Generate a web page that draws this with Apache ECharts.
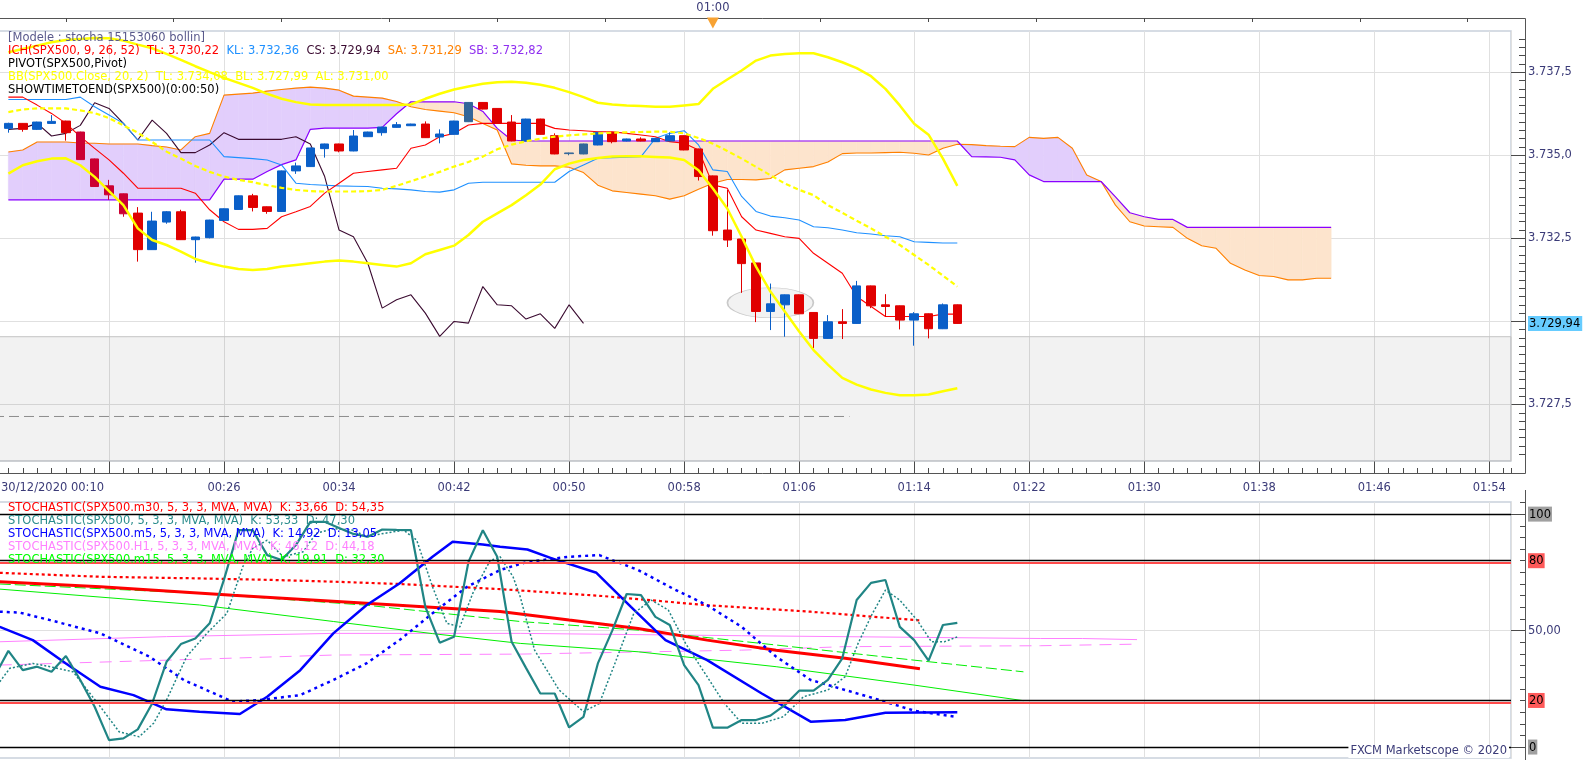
<!DOCTYPE html>
<html><head><meta charset="utf-8">
<script src="https://cdn.jsdelivr.net/npm/echarts@6/dist/echarts.min.js"></script>
<style>html,body{margin:0;padding:0;background:#fff;}#c{width:1583px;height:760px;}</style>
</head><body><div id="c"></div>
<script>
// ---------------- DATA (minutes after 00:00 on 30/12/2020) ----------------
const candleStart = 11; // first candle 00:11, one per minute
const candleOpen  = [3735.81,3735.96,3735.78,3735.96,3736.03,3735.70,3734.89,3734.08,3733.84,3733.26,
                     3732.16,3732.99,3733.30,3732.46,3732.52,3733.04,3733.37,3733.78,3733.45,3733.31,
                     3734.53,3734.66,3735.20,3735.34,3735.13,3735.56,3735.68,3735.84,3735.89,3735.94,
                     3735.55,3735.63,3736.01,3736.59,3736.41,3736.00,3735.43,3736.09,3735.59,3735.05,
                     3735.04,3735.31,3735.69,3735.43,3735.49,3735.41,3735.43,3735.59,3735.19,3734.38,
                     3732.75,3732.48,3731.76,3730.30,3730.50,3730.80,3730.27,3729.49,3729.99,3729.94,
                     3731.07,3730.50,3730.47,3730.04,3730.23,3729.78,3730.50];
const candleClose = [3735.96,3735.78,3736.00,3736.02,3735.68,3734.87,3734.06,3733.81,3733.24,3732.16,
                     3733.02,3733.30,3732.46,3732.54,3733.05,3733.39,3733.78,3733.43,3733.31,3734.53,
                     3734.68,3735.22,3735.34,3735.13,3735.58,3735.70,3735.85,3735.92,3735.94,3735.53,
                     3735.64,3736.03,3736.59,3736.39,3735.96,3735.43,3736.09,3735.63,3735.04,3735.07,
                     3735.34,3735.69,3735.41,3735.49,3735.43,3735.51,3735.59,3735.16,3734.36,3732.73,
                     3732.45,3731.74,3730.30,3730.53,3730.80,3730.23,3729.49,3729.99,3729.94,3731.07,
                     3730.47,3730.45,3730.04,3730.23,3729.78,3730.50,3729.94];
const candleLow   = [3735.68,3735.71,3735.76,3735.95,3735.44,3734.86,3734.05,3733.66,3733.15,3731.80,
                     3732.15,3732.94,3732.45,3731.77,3732.50,3733.03,3733.36,3733.31,3733.24,3733.30,
                     3734.44,3734.65,3734.93,3735.09,3735.12,3735.55,3735.59,3735.83,3735.88,3735.52,
                     3735.36,3735.62,3736.00,3736.38,3735.95,3735.42,3735.42,3735.62,3735.03,3735.00,
                     3735.03,3735.30,3735.36,3735.42,3735.42,3735.40,3735.42,3735.15,3734.24,3732.58,
                     3732.24,3730.86,3729.98,3729.74,3729.54,3730.22,3729.20,3729.48,3729.47,3729.93,
                     3730.40,3730.14,3729.76,3729.27,3729.49,3729.77,3729.93];
const candleHigh  = [3735.98,3735.97,3736.01,3736.21,3736.04,3735.71,3734.90,3734.26,3733.85,3733.44,
                     3733.30,3733.32,3733.36,3732.55,3733.06,3733.40,3733.79,3733.84,3733.46,3734.54,
                     3734.78,3735.23,3735.35,3735.35,3735.76,3735.71,3735.86,3736.00,3735.95,3736.02,
                     3735.78,3736.04,3736.60,3736.60,3736.42,3736.21,3736.10,3736.10,3735.66,3735.08,
                     3735.35,3735.70,3735.70,3735.50,3735.54,3735.52,3735.69,3735.60,3735.20,3734.39,
                     3733.96,3732.49,3731.77,3731.14,3730.81,3730.81,3730.28,3730.19,3730.37,3731.22,
                     3731.08,3730.82,3730.48,3730.28,3730.24,3730.54,3730.51];

const tenkan = [3736.75,3736.75,3736.51,3736.26,3735.96,3735.56,3735.21,3734.86,3734.46,3734.01,
                3734.01,3734.01,3734.01,3733.86,3733.36,3733.00,3732.77,3732.77,3732.80,3733.15,
                3733.30,3733.46,3733.86,3734.16,3734.46,3734.51,3734.56,3734.61,3735.21,3735.31,
                3735.56,3735.66,3735.91,3735.96,3735.96,3735.96,3735.96,3735.96,3735.81,3735.76,
                3735.74,3735.71,3735.71,3735.66,3735.61,3735.56,3735.41,3735.36,3735.16,3734.11,
                3734.01,3733.15,3732.75,3732.65,3732.55,3732.50,3732.05,3731.75,3731.45,3730.75,
                3730.45,3730.15,3730.15,3730.15,3730.15,3730.22,3730.22];
const kijun  = [3736.68,3736.68,3736.68,3736.68,3736.68,3736.75,3736.46,3736.21,3735.96,3735.46,
                3735.46,3735.46,3735.46,3735.46,3735.46,3734.96,3734.93,3734.90,3734.86,3734.71,
                3734.16,3734.12,3734.10,3734.08,3734.07,3734.06,3734.01,3733.99,3733.96,3733.91,
                3733.89,3733.96,3734.16,3734.19,3734.19,3734.19,3734.19,3734.19,3734.19,3734.51,
                3734.71,3734.91,3734.93,3734.94,3734.96,3735.51,3735.66,3735.74,3735.31,3734.56,
                3734.51,3733.76,3733.31,3733.17,3733.12,3733.05,3732.85,3732.82,3732.75,3732.67,
                3732.63,3732.58,3732.55,3732.40,3732.38,3732.36,3732.36];
const chikou = [3735.78,3735.81,3735.96,3735.58,3735.66,3735.90,3736.58,3736.41,3735.96,3735.46,
                3736.06,3735.66,3735.08,3735.08,3735.31,3735.68,3735.48,3735.48,3735.48,3735.48,
                3735.56,3735.34,3734.36,3732.75,3732.55,3731.75,3730.40,3730.65,3730.80,3730.25,
                3729.55,3730.00,3729.95,3731.05,3730.50,3730.47,3730.07,3730.23,3729.79,3730.50,
                3729.94];
const senkouA = [3735.10,3735.16,3735.40,3735.40,3735.40,3735.37,3735.36,3735.34,3735.34,3735.34,
                 3735.29,3735.25,3735.16,3735.56,3735.66,3736.81,3736.84,3736.87,3736.93,3736.98,
                 3737.02,3737.05,3737.02,3736.96,3736.78,3736.75,3736.72,3736.62,3736.46,3736.38,
                 3736.33,3736.28,3736.16,3735.96,3735.76,3734.74,3734.70,3734.68,3734.68,3734.64,
                 3734.48,3734.10,3733.93,3733.88,3733.83,3733.78,3733.68,3733.78,3733.98,3734.16,
                 3734.27,3734.27,3734.26,3734.30,3734.56,3734.61,3734.66,3734.80,3735.05,3735.07,
                 3735.07,3735.08,3735.09,3735.06,3735.01,3735.21,3735.33,3735.32,3735.29,3735.27,
                 3735.26,3735.54,3735.51,3735.54,3735.21,3734.41,3734.21,3733.50,3733.00,3732.87,
                 3732.85,3732.83,3732.50,3732.28,3732.20,3731.75,3731.55,3731.38,3731.35,3731.25,
                 3731.25,3731.30,3731.30];
const senkouB = [3733.66,3733.66,3733.66,3733.66,3733.66,3733.66,3733.66,3733.66,3733.66,3733.66,
                 3733.66,3733.66,3733.66,3733.66,3733.66,3734.28,3734.28,3734.28,3734.51,3734.72,
                 3734.86,3735.78,3735.82,3735.82,3735.82,3735.82,3735.84,3736.25,3736.61,3736.61,
                 3736.61,3736.61,3736.55,3736.32,3735.81,3735.46,3735.43,3735.43,3735.43,3735.43,
                 3735.43,3735.43,3735.43,3735.43,3735.43,3735.43,3735.43,3735.43,3735.43,3735.43,
                 3735.43,3735.43,3735.43,3735.43,3735.43,3735.43,3735.43,3735.43,3735.43,3735.43,
                 3735.43,3735.43,3735.43,3735.43,3735.43,3735.43,3735.43,3734.96,3734.95,3734.94,
                 3734.86,3734.41,3734.21,3734.21,3734.21,3734.21,3734.21,3733.75,3733.27,3733.15,
                 3733.07,3733.07,3732.83,3732.83,3732.83,3732.83,3732.83,3732.83,3732.83,3732.83,
                 3732.83,3732.83,3732.83];
const bbUpper  = [3738.10,3738.20,3738.30,3738.40,3738.47,3738.50,3738.53,3738.52,3738.45,3738.33,
                  3738.22,3738.05,3737.87,3737.68,3737.50,3737.33,3737.18,3737.03,3736.85,3736.70,
                  3736.60,3736.53,3736.51,3736.51,3736.51,3736.51,3736.51,3736.51,3736.53,3736.70,
                  3736.85,3736.98,3737.07,3737.15,3737.20,3737.21,3737.18,3737.12,3737.03,3736.90,
                  3736.75,3736.58,3736.53,3736.50,3736.48,3736.46,3736.46,3736.50,3736.54,3737.00,
                  3737.28,3737.55,3737.85,3738.00,3738.05,3738.07,3738.07,3737.95,3737.80,3737.62,
                  3737.38,3737.00,3736.50,3735.95,3735.62,3734.90,3734.08];
const bbMiddle = [3736.30,3736.38,3736.41,3736.41,3736.41,3736.35,3736.27,3736.12,3735.90,3735.68,
                  3735.40,3735.11,3734.90,3734.68,3734.50,3734.36,3734.26,3734.19,3734.10,3734.02,
                  3733.96,3733.92,3733.91,3733.91,3733.91,3733.92,3733.96,3734.08,3734.22,3734.36,
                  3734.50,3734.66,3734.80,3734.96,3735.18,3735.32,3735.42,3735.50,3735.56,3735.60,
                  3735.63,3735.66,3735.68,3735.69,3735.70,3735.71,3735.71,3735.66,3735.52,3735.35,
                  3735.13,3734.90,3734.65,3734.40,3734.15,3733.96,3733.80,3733.50,3733.27,3733.03,
                  3732.80,3732.55,3732.30,3732.00,3731.70,3731.38,3731.05];
const bbLower  = [3734.45,3734.70,3734.82,3734.90,3734.91,3734.70,3734.35,3733.92,3733.50,3732.80,
                  3732.45,3732.30,3732.10,3731.88,3731.75,3731.65,3731.58,3731.55,3731.58,3731.65,
                  3731.70,3731.75,3731.80,3731.83,3731.80,3731.75,3731.70,3731.65,3731.75,3732.02,
                  3732.15,3732.28,3732.60,3733.00,3733.25,3733.50,3733.80,3734.12,3734.58,3734.75,
                  3734.86,3734.92,3734.96,3734.97,3734.97,3734.95,3734.93,3734.86,3734.55,3734.00,
                  3733.40,3732.55,3731.65,3730.90,3730.30,3729.70,3729.14,3728.70,3728.30,3728.10,
                  3727.95,3727.85,3727.78,3727.78,3727.80,3727.90,3727.99];
const pivotLine = [[10, 3727.14], [69.5, 3727.14]];
const shadeTop = 3729.54;
const currentPrice = 3729.94;
const ellipseMark = [[64, 3730.56]];
const nowMinute = 60; // 01:00 marker

// Stochastics [minute, value]
const stM30K = [[10.4,71.0],[17.4,68.8],[26.6,65.2],[35.9,61.7],[45.2,58.2],[50.0,54.5],[54.8,50.9],[59.6,45.9],[64.4,41.6],[69.2,38.1],[74.4,33.66]];
const stM30D = [[10.4,74.8],[17.4,73.1],[24.3,72.4],[29.0,71.8],[33.6,71.0],[38.2,70.0],[45.2,67.8],[52.4,64.8],[59.6,60.9],[66.8,58.1],[74.4,54.35]];
const stM1KStart = 10;
const stM1K = [30.0,41.3,33.0,34.5,32.3,39.1,28.8,17.3,3.0,3.7,
               7.6,18.7,36.6,44.2,46.6,53.1,72.0,93.1,93.1,82.4,
               80.3,86.7,96.7,96.7,94.0,91.5,90.3,93.4,93.2,93.1,
               60.2,44.8,47.4,79.5,93.1,81.7,45.2,34.0,23.0,23.0,
               8.4,13.0,35.9,50.0,65.7,65.2,55.9,52.4,35.2,26.6,
               8.3,8.3,11.6,11.6,13.5,18.0,24.2,24.2,28.8,38.1,
               63.1,70.5,71.7,51.6,45.9,37.1,52.4,53.33];
const stM1D = [[10.4,28.0],[11.1,33.8],[12.7,35.9],[13.9,34.5],[15.5,32.3],[17.4,17.3],[18.7,6.6],[20.1,4.4],[21.1,10.2],[22.0,20.2],[23.4,38.8],[24.8,48.8],[26.2,57.4],[27.3,77.4],[28.0,85.3],[29.0,88.8],[30.1,81.7],[31.5,83.8],[32.4,91.7],[33.6,93.8],[35.0,93.1],[35.9,90.3],[37.1,91.7],[38.5,93.1],[39.4,88.8],[40.5,68.8],[41.5,53.1],[42.4,51.6],[43.3,66.0],[44.5,80.0],[45.2,81.7],[46.1,73.1],[46.6,64.5],[47.6,41.6],[49.3,24.5],[51.0,15.2],[52.1,18.7],[53.1,34.5],[54.5,57.4],[55.7,63.1],[56.9,58.8],[58.1,44.5],[59.6,30.2],[60.8,18.7],[62.0,10.2],[63.4,10.2],[64.9,13.0],[66.3,21.6],[68.0,24.5],[69.2,30.2],[70.1,44.5],[71.1,57.4],[72.0,67.4],[73.0,63.1],[74.2,54.5],[75.2,45.2],[76.1,45.2],[77.0,47.3]];
const stM5K = [[10.4,51.6],[12.7,45.9],[15.0,35.9],[17.4,25.9],[19.7,22.3],[22.0,16.2],[24.3,15.2],[27.1,14.2],[29.0,21.6],[31.3,33.0],[33.6,48.8],[35.9,60.9],[38.2,70.2],[40.5,81.7],[41.9,88.1],[44.0,87.0],[45.2,86.0],[47.1,84.8],[48.8,81.0],[51.9,74.8],[54.3,60.2],[56.7,45.9],[59.6,37.3],[63.4,23.0],[66.8,10.9],[69.2,11.6],[72.0,14.7],[77.0,14.92]];
const stM5D = [[10.4,58.1],[11.8,57.7],[13.9,54.5],[17.4,48.8],[20.8,38.8],[23.2,28.8],[26.6,19.5],[28.5,20.2],[31.3,22.3],[33.6,28.8],[35.9,35.9],[38.2,45.9],[40.5,57.4],[42.9,68.8],[45.2,76.0],[47.1,79.5],[50.0,81.7],[52.1,82.4],[54.8,76.0],[57.2,68.1],[59.6,60.9],[62.0,51.6],[64.4,38.8],[66.8,28.8],[69.2,24.5],[71.6,20.2],[74.0,15.6],[76.8,13.05]];
const stH1K = [[10.4,45.2],[22,47.4],[33.6,48.8],[46.6,48.8],[62,47.8],[82.8,46.6],[85.7,46.6],[85.8,46.2],[89.5,46.12]];
const stH1D = [[10.4,35.2],[22,37.3],[33.6,39.5],[46.6,39.9],[62,41.6],[69.2,43.1],[82.8,43.5],[89.5,44.18]];
const stM15K = [[10.4,67.8],[24.3,61.0],[33.6,53.9],[40.5,48.7],[46.6,44.5],[54.8,40.9],[64.4,34.5],[74.0,26.6],[81.6,19.91]];
const stM15D = [[10.4,70.0],[24.3,66.0],[35.9,60.9],[46.6,53.9],[54.8,50.2],[64.4,43.8],[74.0,37.3],[81.6,32.3]];

// Axis ticks / labels
const priceTicks  = [3727.5, 3730, 3732.5, 3735, 3737.5];
const priceLabels = [3727.5, 3729.94, 3732.5, 3735, 3737.5];
const stochTicks  = [0, 50, 100];
const stochLabels = [0, 20, 50, 80, 100];
const topTicks    = [15,22.5,30,37.5,45,52.5,60,67.5,75,82.5,90,97.5,105,112.5];
const X_MIN = 10, X_MAX = 115.51;
const P_MIN = 3725.80, P_MAX = 3738.74;
const S_MIN = -4.7, S_MAX = 105.2;

// ---------------- BUILD ----------------
const FONT = 'DejaVu Sans';
const FS = 11.5;
const LABEL_C = '#3b3b78';
const TICK_C = '#4a4a4a';
const GRIDLINE_C = '#e0e0e0';

function fmtPrice(v, dec) {
  const s = v.toFixed(dec); const parts = s.split('.');
  return parts[0].slice(0, 1) + '.' + parts[0].slice(1) + ',' + parts[1];
}
function fmtTime(m) {
  const h = Math.floor(m / 60), mm = Math.round(m % 60);
  return String(h).padStart(2, '0') + ':' + String(mm).padStart(2, '0');
}
const byMinute = (arr, start) => arr.map((v, i) => [start + i, v]);

const highlight = {16:'#cc0033',17:'#cc0033',18:'#cc0033',19:'#cc0033',43:'#336699',50:'#336699',51:'#336699'};
const candleData = candleOpen.map((o, i) => {
  const m = candleStart + i;
  const item = {value: [m, o, candleClose[i], candleLow[i], candleHigh[i]]};
  if (highlight[m]) item.itemStyle = {color: highlight[m], color0: highlight[m], borderColor: highlight[m], borderColor0: highlight[m]};
  return item;
});
const cloudStart = candleStart;
const cloudData = senkouA.map((a, i) => [cloudStart + i, a, senkouB[i]]);
const LAV = '#e2cefc', PEACH = '#fde4cd';

function cloudItem(params, api) {
  const i = params.dataIndex;
  if (i >= senkouA.length - 1) return null;
  const m0 = cloudStart + i, m1 = m0 + 1;
  const a0 = senkouA[i], a1 = senkouA[i + 1], b0 = senkouB[i], b1 = senkouB[i + 1];
  const d0 = a0 - b0, d1 = a1 - b1;
  const P = (m, v) => api.coord([m, v]);
  const col = d => d >= 0 ? LAV : PEACH;
  const polys = [];
  if (d0 * d1 >= 0) {
    polys.push({pts: [P(m0, a0), P(m1, a1), P(m1, b1), P(m0, b0)], c: col(d0 !== 0 ? d0 : d1)});
  } else {
    const t = d0 / (d0 - d1); const mx = m0 + t; const vx = a0 + (a1 - a0) * t;
    polys.push({pts: [P(m0, a0), P(mx, vx), P(m0, b0)], c: col(d0)});
    polys.push({pts: [P(mx, vx), P(m1, a1), P(m1, b1)], c: col(d1)});
  }
  return {type: 'group', children: polys.map(p => ({type: 'polygon', shape: {points: p.pts}, style: {fill: p.c, stroke: p.c, lineWidth: 0.6}}))};
}

const priceMinor = [];
for (let v = 3726; v <= 3738.5001; v += 0.25) priceMinor.push(+v.toFixed(2));
const stochMinor = [];
for (let v = 0; v <= 105; v += 5) stochMinor.push(v);

const line = (data, color, width, extra) => Object.assign({
  type: 'line', data, symbol: 'none', silent: true, animation: false,
  lineStyle: {color, width}, z: 2
}, extra || {});
const sline = (data, color, width, type, z) => ({
  type: 'line', data, symbol: 'none', silent: true, xAxisIndex: 3, yAxisIndex: 2,
  lineStyle: {color, width, type: type || 'solid'}, z: z || 2
});

function tline(top, text, rich, color) {
  return {left: 8, top: top, padding: 0, text: text,
    textStyle: {fontFamily: FONT, fontSize: FS, fontWeight: 'normal', color: color || '#000', lineHeight: 13, rich: rich || {}}};
}
const rs = c => ({color: c, fontFamily: FONT, fontSize: FS, lineHeight: 13});

const option = {
  animation: false,
  backgroundColor: '#fff',
  textStyle: {fontFamily: FONT},
  title: [
    tline(32, '[Modele : stocha 15153060 bollin]', null, '#5a5a8c'),
    tline(45, '{r|ICH(SPX500, 9, 26, 52)  TL: 3.730,22}  {b|KL: 3.732,36}  {k|CS: 3.729,94}  {o|SA: 3.731,29}  {p|SB: 3.732,82}',
      {r: rs('#ff0000'), b: rs('#1e90ff'), k: rs('#3a0a30'), o: rs('#ff8000'), p: rs('#9030f0')}),
    tline(58, 'PIVOT(SPX500,Pivot)', null, '#000'),
    tline(71, 'BB(SPX500.Close, 20, 2)  TL: 3.734,08  BL: 3.727,99  AL: 3.731,00', null, '#ffff00'),
    tline(84, 'SHOWTIMETOEND(SPX500)(0:00:50)', null, '#000'),
    tline(502, 'STOCHASTIC(SPX500.m30, 5, 3, 3, MVA, MVA)  K: 33,66  D: 54,35', null, '#ff0000'),
    tline(515, 'STOCHASTIC(SPX500, 5, 3, 3, MVA, MVA)  K: 53,33  D: 47,30', null, '#2a8c8c'),
    tline(528, 'STOCHASTIC(SPX500.m5, 5, 3, 3, MVA, MVA)  K: 14,92  D: 13,05', null, '#0000ff'),
    tline(541, 'STOCHASTIC(SPX500.H1, 5, 3, 3, MVA, MVA)  K: 46,12  D: 44,18', null, '#ff80ff'),
    tline(554, 'STOCHASTIC(SPX500.m15, 5, 3, 3, MVA, MVA)  K: 19,91  D: 32,30', null, '#00ff00'),
    {right: 74, top: 745, padding: [0, 2], backgroundColor: '#fff', text: 'FXCM Marketscope © 2020',
     textStyle: {fontFamily: FONT, fontSize: FS, fontWeight: 'normal', color: LABEL_C, lineHeight: 13}}
  ],
  grid: [
    {left: -6, right: 72, top: 31, height: 430, show: true, borderColor: '#c9d1dc', borderWidth: 1.5, backgroundColor: 'transparent',
     containLabel: false, outerBoundsMode: 'none'},
    {left: -6, right: 72, top: 502, height: 256, show: true, borderColor: '#c9d1dc', borderWidth: 1.5, backgroundColor: 'transparent',
     containLabel: false, outerBoundsMode: 'none'}
  ],
  xAxis: [
    {type: 'value', gridIndex: 0, min: X_MIN, max: X_MAX, interval: 8, position: 'bottom', offset: 12,
     axisLine: {show: false},
     axisTick: {show: true, inside: true, length: 12, lineStyle: {color: TICK_C}},
     axisLabel: {color: LABEL_C, fontFamily: FONT, fontSize: FS, margin: 9, alignMinLabel: 'left', showMaxLabel: false,
       rich: {first: {color: LABEL_C, fontFamily: FONT, fontSize: FS, padding: [0, 0, 0, 7]}},
       formatter: m => {
         if (Math.abs(m - Math.round(m)) > 1e-6) return '';
         if (Math.round(m) === 10) return '{first|30/12/2020 00:10}';
         if (Math.round(m) === 18) return '';
         return fmtTime(m);
       }},
     splitLine: {show: true, lineStyle: {color: GRIDLINE_C, width: 1}}},
    {type: 'value', gridIndex: 0, min: X_MIN, max: X_MAX, interval: 1, position: 'bottom', offset: 12,
     axisLine: {show: false}, axisTick: {show: true, inside: true, length: 5, lineStyle: {color: TICK_C}},
     axisLabel: {show: false}, splitLine: {show: false}},
    {type: 'value', gridIndex: 0, min: X_MIN, max: X_MAX, position: 'top', offset: 13,
     axisLine: {show: false},
     axisTick: {show: true, inside: true, length: 4, customValues: topTicks, lineStyle: {color: TICK_C}},
     axisLabel: {show: true, customValues: [nowMinute], formatter: m => fmtTime(m), color: LABEL_C, fontFamily: FONT, fontSize: FS, margin: 4},
     splitLine: {show: false}},
    {type: 'value', gridIndex: 1, min: X_MIN, max: X_MAX, interval: 8,
     axisLine: {show: false}, axisTick: {show: false}, axisLabel: {show: false},
     splitLine: {show: true, lineStyle: {color: GRIDLINE_C, width: 1}}}
  ],
  yAxis: [
    {type: 'value', gridIndex: 0, min: P_MIN, max: P_MAX, position: 'right', offset: 14,
     axisLine: {show: false},
     axisTick: {show: true, inside: true, length: 14, customValues: priceTicks, lineStyle: {color: TICK_C}},
     axisLabel: {customValues: priceLabels, margin: 3, fontFamily: FONT, fontSize: FS,
       formatter: v => Math.abs(v - currentPrice) < 1e-6 ? '{cur|' + fmtPrice(v, 2) + '}' : '{n|' + fmtPrice(v, 1) + '}',
       rich: {n: {color: LABEL_C, fontFamily: FONT, fontSize: FS},
              cur: {color: '#000', backgroundColor: '#66ccff', fontFamily: FONT, fontSize: FS, padding: [2, 2, 1, 1]}}},
     splitLine: {show: true, lineStyle: {color: GRIDLINE_C, width: 1}}},
    {type: 'value', gridIndex: 0, min: P_MIN, max: P_MAX, position: 'right', offset: 14,
     axisLine: {show: false},
     axisTick: {show: true, inside: true, length: 6, customValues: priceMinor, lineStyle: {color: TICK_C}},
     axisLabel: {show: false}, splitLine: {show: false}},
    {type: 'value', gridIndex: 1, min: S_MIN, max: S_MAX, position: 'right', offset: 14,
     axisLine: {show: false},
     axisTick: {show: true, inside: true, length: 14, customValues: stochTicks, lineStyle: {color: TICK_C}},
     axisLabel: {customValues: stochLabels, margin: 3, fontFamily: FONT, fontSize: FS,
       formatter: v => v === 50 ? '{n|50,00}' : (v === 20 || v === 80) ? '{r|' + v + '}' : '{g|' + v + '}',
       rich: {n: {color: LABEL_C, fontFamily: FONT, fontSize: FS},
              r: {color: '#000', backgroundColor: '#ff5a5a', fontFamily: FONT, fontSize: FS, padding: [2, 1, 1, 1]},
              g: {color: '#000', backgroundColor: '#a0a0a0', fontFamily: FONT, fontSize: FS, padding: [2, 1, 1, 1]}}},
     splitLine: {show: true, lineStyle: {color: GRIDLINE_C, width: 1}}},
    {type: 'value', gridIndex: 1, min: S_MIN, max: S_MAX, position: 'right', offset: 14,
     axisLine: {show: false},
     axisTick: {show: true, inside: true, length: 5, customValues: stochMinor, lineStyle: {color: TICK_C}},
     axisLabel: {show: false}, splitLine: {show: false}}
  ],
  graphic: [
    {type: 'line', shape: {x1: 0, y1: 18.5, x2: 1525.5, y2: 18.5}, style: {stroke: '#555', lineWidth: 1}, silent: true},
    {type: 'line', shape: {x1: 1525.5, y1: 18.5, x2: 1525.5, y2: 473.5}, style: {stroke: '#555', lineWidth: 1}, silent: true},
    {type: 'line', shape: {x1: 0, y1: 473.5, x2: 1525.5, y2: 473.5}, style: {stroke: '#555', lineWidth: 1}, silent: true},
    {type: 'line', shape: {x1: 1525.5, y1: 490, x2: 1525.5, y2: 760}, style: {stroke: '#555', lineWidth: 1}, silent: true}
  ],
  series: [
    // gray band + pivot
    line(pivotLine, '#8c8c8c', 1, {
      lineStyle: {color: '#8c8c8c', width: 1, type: [10, 5]}, z: 1,
      markArea: {silent: true, itemStyle: {color: 'rgba(0,0,0,0.05)', borderColor: '#c4c4c4', borderWidth: 1},
        data: [[{yAxis: P_MIN}, {yAxis: shadeTop}]]}
    }),
    {type: 'scatter', data: ellipseMark, symbol: 'circle', symbolSize: [86, 30], silent: true, z: 1,
     itemStyle: {color: '#efefef', borderColor: '#bdbdbd', borderWidth: 1}},
    {type: 'custom', data: cloudData, renderItem: cloudItem, encode: {x: 0, y: [1, 2]}, silent: true, z: 1, clip: true},
    line(byMinute(senkouA, cloudStart), '#ff8000', 1.1),
    line(byMinute(senkouB, cloudStart), '#8a00ff', 1.2),
    line(byMinute(chikou, candleStart), '#3a0a30', 1.1),
    line(byMinute(kijun, candleStart), '#1e90ff', 1.1),
    line(byMinute(tenkan, candleStart), '#ff0000', 1.1, {
      markPoint: {silent: true, symbol: 'triangle', symbolRotate: 180, symbolSize: [12, 11], symbolOffset: [0, -8],
        itemStyle: {color: '#f7a233'}, label: {show: false},
        data: [{coord: [nowMinute, P_MAX]}]}
    }),
    {type: 'candlestick', data: candleData, encode: {x: 0, y: [1, 2, 3, 4]}, barWidth: 9, silent: true, z: 3,
     itemStyle: {color: '#0a5fc8', color0: '#e00000', borderColor: '#0a5fc8', borderColor0: '#e00000', borderWidth: 1}},
    line(byMinute(bbMiddle, candleStart), '#ffff00', 2, {lineStyle: {color: '#ffff00', width: 2.2, type: [5, 3]}, z: 4}),
    line(byMinute(bbUpper, candleStart), '#ffff00', 2.5, {z: 4}),
    line(byMinute(bbLower, candleStart), '#ffff00', 2.5, {z: 4}),

    // stochastic panel
    Object.assign(sline(stH1K, '#ff80ff', 1, 'solid', 1), {
      markLine: {silent: true, symbol: 'none', label: {show: false}, animation: false,
        data: [
          {yAxis: 100, lineStyle: {color: '#000', width: 1.3, type: 'solid'}},
          {yAxis: 79.2, lineStyle: {color: '#ff4a4a', width: 2, type: 'solid'}},
          {yAxis: 80, lineStyle: {color: '#000', width: 1.3, type: 'solid'}},
          {yAxis: 19.2, lineStyle: {color: '#ff4a4a', width: 2, type: 'solid'}},
          {yAxis: 20, lineStyle: {color: '#000', width: 1.3, type: 'solid'}},
          {yAxis: 0, lineStyle: {color: '#000', width: 1.3, type: 'solid'}}
        ]}
    }),
    sline(stH1D, '#ff80ff', 1, [12, 8]),
    sline(stM15K, '#00ee00', 1, 'solid'),
    sline(stM15D, '#00ee00', 1, [11, 4]),
    sline(stM30D, '#ff0000', 2.2, [3, 3]),
    sline(stM30K, '#ff0000', 3, 'solid'),
    sline(stM5D, '#0000ff', 2.5, [3, 4]),
    sline(stM5K, '#0000ff', 2.5, 'solid'),
    sline(stM1D, '#208585', 1.5, [2, 2]),
    sline(byMinute(stM1K, stM1KStart), '#208585', 2.2, 'solid', 3)
  ]
};

const chart = echarts.init(document.getElementById('c'));
chart.setOption(option);
</script>
</body></html>
